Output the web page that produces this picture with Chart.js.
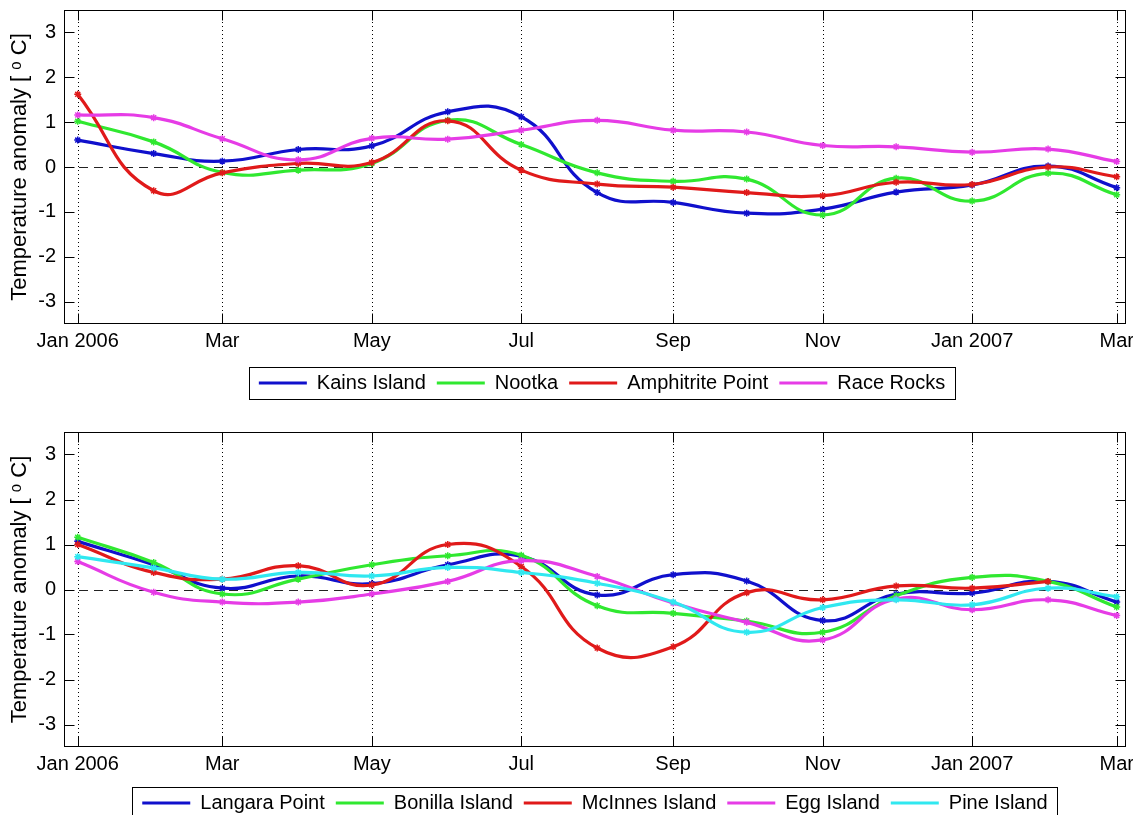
<!DOCTYPE html>
<html>
<head>
<meta charset="utf-8">
<script src="https://cdn.jsdelivr.net/npm/chart.js@4.4.1/dist/chart.umd.min.js"></script>
<style>
html, body { margin: 0; padding: 0; background: #fff; overflow: hidden; width: 1133px; height: 815px; }
#w1 { position: absolute; left: 0; top: 0; width: 1133px; height: 415px; }
#w2 { position: absolute; left: 0; top: 415px; width: 1133px; height: 410px; }
canvas { display: block; }
</style>
</head>
<body>
<div id="w1"><canvas id="c1"></canvas></div>
<div id="w2"><canvas id="c2"></canvas></div>
<script>
// ---- data ----
const months = ['2006-01-01','2006-02-01','2006-03-01','2006-04-01','2006-05-01','2006-06-01','2006-07-01',
  '2006-08-01','2006-09-01','2006-10-01','2006-11-01','2006-12-01','2007-01-01','2007-02-01','2007-03-01'];
const tickDates = ['2006-01-01','2006-03-01','2006-05-01','2006-07-01','2006-09-01','2006-11-01','2007-01-01','2007-03-01'];
const tickLabels = ['Jan 2006','Mar','May','Jul','Sep','Nov','Jan 2007','Mar'];
const yTicks = [-3, -2, -1, 0, 1, 2, 3];

// top panel
const kainsIsland     = [0.60, 0.30, 0.13, 0.39, 0.47, 1.23, 1.12, -0.57, -0.79, -1.03, -0.94, -0.56, -0.40, 0.02, -0.46];
const nootka          = [1.02, 0.56, -0.12, -0.07, 0.08, 1.04, 0.50, -0.13, -0.32, -0.27, -1.07, -0.25, -0.76, -0.14, -0.62];
const amphitritePoint = [1.62, -0.53, -0.13, 0.08, 0.10, 1.03, -0.07, -0.38, -0.45, -0.57, -0.64, -0.34, -0.39, 0.00, -0.22];
const raceRocks       = [1.16, 1.10, 0.63, 0.16, 0.64, 0.62, 0.82, 1.04, 0.82, 0.78, 0.48, 0.45, 0.33, 0.40, 0.12];

// bottom panel
const langaraPoint  = [1.07, 0.55, 0.03, 0.30, 0.13, 0.55, 0.74, -0.12, 0.33, 0.19, -0.69, -0.10, -0.08, 0.18, -0.28];
const bonillaIsland = [1.16, 0.60, -0.10, 0.23, 0.55, 0.75, 0.76, -0.36, -0.53, -0.70, -0.95, -0.14, 0.27, 0.18, -0.39];
const mcInnesIsland = [1.00, 0.38, 0.23, 0.53, 0.10, 1.00, 0.51, -1.30, -1.27, -0.07, -0.23, 0.08, 0.03, 0.18, null];
const eggIsland     = [0.62, -0.06, -0.28, -0.28, -0.10, 0.18, 0.64, 0.29, -0.30, -0.73, -1.12, -0.21, -0.45, -0.23, -0.58];
const pineIsland    = [0.73, 0.48, 0.23, 0.38, 0.30, 0.49, 0.38, 0.14, -0.28, -0.95, -0.40, -0.23, -0.34, 0.03, -0.16];

// ---- helpers ----
const DAY = 86400000;
const t0 = Date.parse('2006-01-01T00:00:00Z');
const toDay = s => (Date.parse(s + 'T00:00:00Z') - t0) / DAY;
const monthDays = months.map(toDay);
const tickDays = tickDates.map(toDay);

Chart.defaults.font.family = "'Liberation Sans', Arial, Helvetica, sans-serif";
Chart.defaults.font.size = 20;
Chart.defaults.color = '#000';

const COLORS = { blue: '#1010cc', green: '#30e830', red: '#e01a1a', magenta: '#e63ce6', cyan: '#30e8f0' };

function series(label, values, color, n, i) {
  return {
    label,
    data: monthDays.map((d, k) => ({ x: d, y: values[k] })),
    borderColor: color,
    backgroundColor: color,
    borderWidth: 3.2,
    tension: 0.47,
    pointStyle: 'star',
    pointRadius: 3.5,
    pointBorderWidth: 1.5,
    pointBorderColor: color,
    spanGaps: false,
    order: n - i
  };
}

const axesPlugin = {
  id: 'matlabAxes',
  beforeDatasetsDraw(chart) {
    const { ctx, chartArea: a, scales: { x, y } } = chart;
    ctx.save();
    ctx.strokeStyle = '#000';
    ctx.lineWidth = 1;
    ctx.setLineDash([1, 3]);
    tickDays.forEach(d => {
      const px = Math.round(x.getPixelForValue(d)) + 0.5;
      ctx.beginPath(); ctx.moveTo(px, a.top); ctx.lineTo(px, a.bottom); ctx.stroke();
    });
    ctx.setLineDash([9, 6]);
    ctx.strokeStyle = '#222';
    const py = Math.round(y.getPixelForValue(0)) + 0.5;
    ctx.beginPath(); ctx.moveTo(a.left, py); ctx.lineTo(a.right, py); ctx.stroke();
    ctx.restore();
  },
  afterDatasetsDraw(chart) {
    const { ctx, chartArea: a, scales: { x, y } } = chart;
    ctx.save();
    ctx.strokeStyle = '#000';
    ctx.lineWidth = 1;
    ctx.setLineDash([]);
    const L = Math.round(a.left) + 0.5, R = Math.round(a.right) - 0.5;
    const T = Math.round(a.top) + 0.5, B = Math.round(a.bottom) - 0.5;
    ctx.strokeRect(L, T, R - L, B - T);
    const len = 10;
    ctx.beginPath();
    tickDays.forEach(d => {
      const px = Math.round(x.getPixelForValue(d)) + 0.5;
      ctx.moveTo(px, T); ctx.lineTo(px, T + len);
      ctx.moveTo(px, B); ctx.lineTo(px, B - len);
    });
    yTicks.forEach(v => {
      const py = Math.round(y.getPixelForValue(v)) + 0.5;
      ctx.moveTo(L, py); ctx.lineTo(L + len, py);
      ctx.moveTo(R, py); ctx.lineTo(R - len, py);
    });
    ctx.stroke();
    ctx.restore();
  }
};

const legendBoxPlugin = {
  id: 'legendBox',
  afterLayout(chart, args, opts) {
    const lg = chart.legend;
    if (lg && opts && opts.shift) { lg.left += opts.shift; lg.right += opts.shift; }
  },
  afterDraw(chart) {
    const lg = chart.legend;
    const hb = lg && lg.legendHitBoxes;
    if (!hb || !hb.length) return;
    const ctx = chart.ctx;
    const l = Math.min(...hb.map(h => h.left)) - 10;
    const r = Math.max(...hb.map(h => h.left + h.width)) + 10;
    const t = hb[0].top - 6;
    const b = hb[0].top + hb[0].height + 6;
    ctx.save();
    ctx.strokeStyle = '#000';
    ctx.lineWidth = 1;
    ctx.strokeRect(Math.round(l) + 0.5, Math.round(t) + 0.5, Math.round(r - l), Math.round(b - t));
    ctx.restore();
  }
};

function makeChart(canvasId, datasets, padTop, padBottom, xHeight, legendShift) {
  return new Chart(document.getElementById(canvasId), {
    type: 'line',
    data: { datasets },
    plugins: [axesPlugin, legendBoxPlugin],
    options: {
      responsive: true,
      maintainAspectRatio: false,
      animation: false,
      events: [],
      layout: { padding: { top: padTop, right: 7, bottom: padBottom, left: 0 } },
      scales: {
        x: {
          type: 'linear',
          min: -5.6,
          max: 427.8,
          grid: { display: false, drawTicks: false },
          border: { display: false },
          afterBuildTicks: s => { s.ticks = tickDays.map(v => ({ value: v })); },
          afterFit: s => { s.height = xHeight; s.paddingLeft = 0; s.paddingRight = 0; },
          ticks: {
            autoSkip: false, maxRotation: 0, minRotation: 0, padding: 5,
            font: { size: 20 },
            callback: v => { const i = tickDays.indexOf(v); return i >= 0 ? tickLabels[i] : ''; }
          }
        },
        y: {
          type: 'linear',
          min: -3.5,
          max: 3.5,
          grid: { display: false, drawTicks: false },
          border: { display: false },
          afterBuildTicks: s => { s.ticks = yTicks.map(v => ({ value: v })); },
          afterFit: s => { s.width = 64; s.paddingTop = 0; s.paddingBottom = 0; },
          ticks: { padding: 8, font: { size: 20 }, callback: v => String(v) },
          title: {
            display: true,
            text: 'Temperature anomaly [ \u1D52 C]',
            font: { size: 22 },
            padding: { top: 7, bottom: 0 }
          }
        }
      },
      plugins: {
        tooltip: { enabled: false },
        legendBox: { shift: legendShift },
        legend: {
          position: 'bottom',
          fullSize: false,
          labels: {
            boxWidth: 48,
            boxHeight: 0,
            padding: 11,
            font: { size: 20 },
            color: '#000',
            sort: (a, b) => a.datasetIndex - b.datasetIndex
          }
        }
      }
    }
  });
}

const topSets = [
  ['Kains Island', kainsIsland, COLORS.blue],
  ['Nootka', nootka, COLORS.green],
  ['Amphitrite Point', amphitritePoint, COLORS.red],
  ['Race Rocks', raceRocks, COLORS.magenta]
].map((d, i, arr) => series(d[0], d[1], d[2], arr.length, i));

const bottomSets = [
  ['Langara Point', langaraPoint, COLORS.blue],
  ['Bonilla Island', bonillaIsland, COLORS.green],
  ['McInnes Island', mcInnesIsland, COLORS.red],
  ['Egg Island', eggIsland, COLORS.magenta],
  ['Pine Island', pineIsland, COLORS.cyan]
].map((d, i, arr) => series(d[0], d[1], d[2], arr.length, i));

makeChart('c1', topSets, 10, 12, 38, 7);
makeChart('c2', bottomSets, 17, 2, 35, 0);
</script>
</body>
</html>
